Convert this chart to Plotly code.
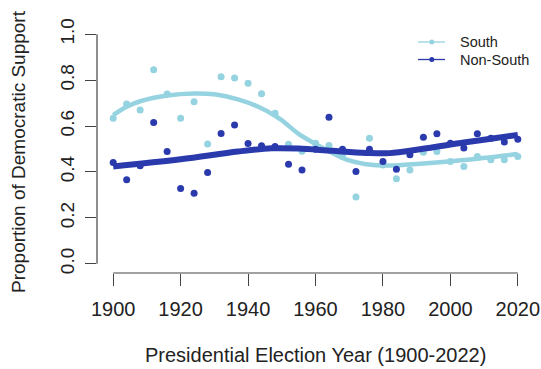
import plotly.graph_objects as go

years = list(range(1900, 2021, 4))
south = [0.634, 0.696, 0.670, 0.845, 0.739, 0.634, 0.706, 0.522, 0.815, 0.809,
         0.786, 0.741, 0.656, 0.521, 0.490, 0.525, 0.515, 0.467, 0.291, 0.547,
         0.430, 0.370, 0.409, 0.486, 0.489, 0.446, 0.424, 0.467, 0.453, 0.453, 0.467]
nonsouth = [0.441, 0.366, 0.427, 0.615, 0.489, 0.328, 0.307, 0.398, 0.567, 0.605,
            0.524, 0.514, 0.511, 0.434, 0.409, 0.499, 0.638, 0.499, 0.402, 0.499,
            0.446, 0.412, 0.475, 0.551, 0.566, 0.525, 0.504, 0.566, 0.547, 0.530, 0.543]

south_fit_x = [1900, 1904, 1908, 1916, 1924, 1930, 1937, 1943, 1948, 1950, 1955,
               1960, 1964, 1969, 1975, 1982, 1991, 2004, 2020]
south_fit_y = [0.648, 0.684, 0.708, 0.733, 0.742, 0.738, 0.716, 0.684, 0.645, 0.625,
               0.566, 0.522, 0.490, 0.455, 0.434, 0.428, 0.436, 0.452, 0.478]
nonsouth_fit_x = [1900, 1920, 1937, 1947, 1955, 1965, 1975, 1982, 1991, 2004, 2012, 2020]
nonsouth_fit_y = [0.424, 0.455, 0.489, 0.503, 0.502, 0.492, 0.483, 0.482, 0.499, 0.528,
                  0.545, 0.561]

x_ticks = [1900, 1920, 1940, 1960, 1980, 2000, 2020]
y_ticks = [0.0, 0.2, 0.4, 0.6, 0.8, 1.0]
series_names = ["South", "Non-South"]

LIGHT = "#95D3E1"
DARK = "#2A3AAC"
FONT = "Liberation Sans, Arial, sans-serif"
TXT = "#222222"

W, H = 541, 369
ML, MR, MT, MB = 97, 7, 25, 96
PW = W - ML - MR
PH = H - MT - MB

fig = go.Figure()
fig.add_trace(go.Scatter(x=years, y=south, mode="markers",
                         marker=dict(color=LIGHT, size=7), showlegend=False))
fig.add_trace(go.Scatter(x=south_fit_x, y=south_fit_y, mode="lines",
                         line=dict(color=LIGHT, width=4.5, shape="spline", smoothing=1.0),
                         showlegend=False))
fig.add_trace(go.Scatter(x=years, y=nonsouth, mode="markers",
                         marker=dict(color=DARK, size=7), showlegend=False))
fig.add_trace(go.Scatter(x=nonsouth_fit_x, y=nonsouth_fit_y, mode="lines",
                         line=dict(color=DARK, width=6, shape="spline", smoothing=1.0),
                         showlegend=False))

xr = [1900 - 0.04 * 120, 2020 + 0.04 * 120]
yr = [-0.04, 1.04]

axis_color = "#444444"
shapes = [
    dict(type="line", xref="x", yref="paper", x0=1900, x1=2020, y0=0, y1=0,
         line=dict(color=axis_color, width=1.2)),
    dict(type="line", xref="paper", yref="y", x0=0, x1=0, y0=0, y1=1,
         line=dict(color=axis_color, width=1.2)),
]

def px_x(p):
    return (p - ML) / PW

def px_y(p):
    return 1 - (p - MT) / PH

annotations = []
legend_rows = [(series_names[0], LIGHT, 42), (series_names[1], DARK, 59.5)]
for name, col, ypx in legend_rows:
    shapes.append(dict(type="line", xref="paper", yref="paper",
                       x0=px_x(418), x1=px_x(445), y0=px_y(ypx), y1=px_y(ypx),
                       line=dict(color=col, width=1.3)))
    shapes.append(dict(type="circle", xref="paper", yref="paper",
                       x0=px_x(429.3), x1=px_x(434.3), y0=px_y(ypx + 2.5), y1=px_y(ypx - 2.5),
                       fillcolor=col, line=dict(width=0)))
    annotations.append(dict(text=name, xref="paper", yref="paper", x=px_x(458), y=px_y(ypx),
                            xanchor="left", yanchor="middle", showarrow=False,
                            font=dict(family=FONT, size=14.5, color=TXT)))

annotations.append(dict(text="Presidential Election Year (1900-2022)", xref="paper", yref="paper",
                        x=0.5, y=px_y(355), xanchor="center", yanchor="middle", showarrow=False,
                        font=dict(family=FONT, size=20, color=TXT)))
annotations.append(dict(text="Proportion of Democratic Support", xref="paper", yref="paper",
                        x=px_x(18), y=px_y(152), xanchor="center", yanchor="middle", showarrow=False,
                        textangle=-90, font=dict(family=FONT, size=19, color=TXT)))

fig.update_layout(
    width=W, height=H,
    margin=dict(l=ML, r=MR, t=MT, b=MB, autoexpand=False),
    paper_bgcolor="white", plot_bgcolor="white",
    shapes=shapes, annotations=annotations,
    showlegend=False,
    font=dict(family=FONT, size=20, color=TXT),
    xaxis=dict(range=xr, tickvals=x_ticks, ticktext=[str(v) for v in x_ticks],
               ticks="outside", ticklen=12, tickwidth=1.2, tickcolor=axis_color,
               ticklabelstandoff=6,
               showgrid=False, zeroline=False, showline=False,
               tickfont=dict(family=FONT, size=20, color=TXT)),
    yaxis=dict(range=yr, tickvals=y_ticks, ticktext=[f"{v:.1f}" for v in y_ticks],
               ticks="outside", ticklen=11, tickwidth=1.2, tickcolor=axis_color,
               tickangle=-90, ticklabelstandoff=3,
               showgrid=False, zeroline=False, showline=False,
               tickfont=dict(family=FONT, size=19, color=TXT)),
)

fig.write_html("out.html")
